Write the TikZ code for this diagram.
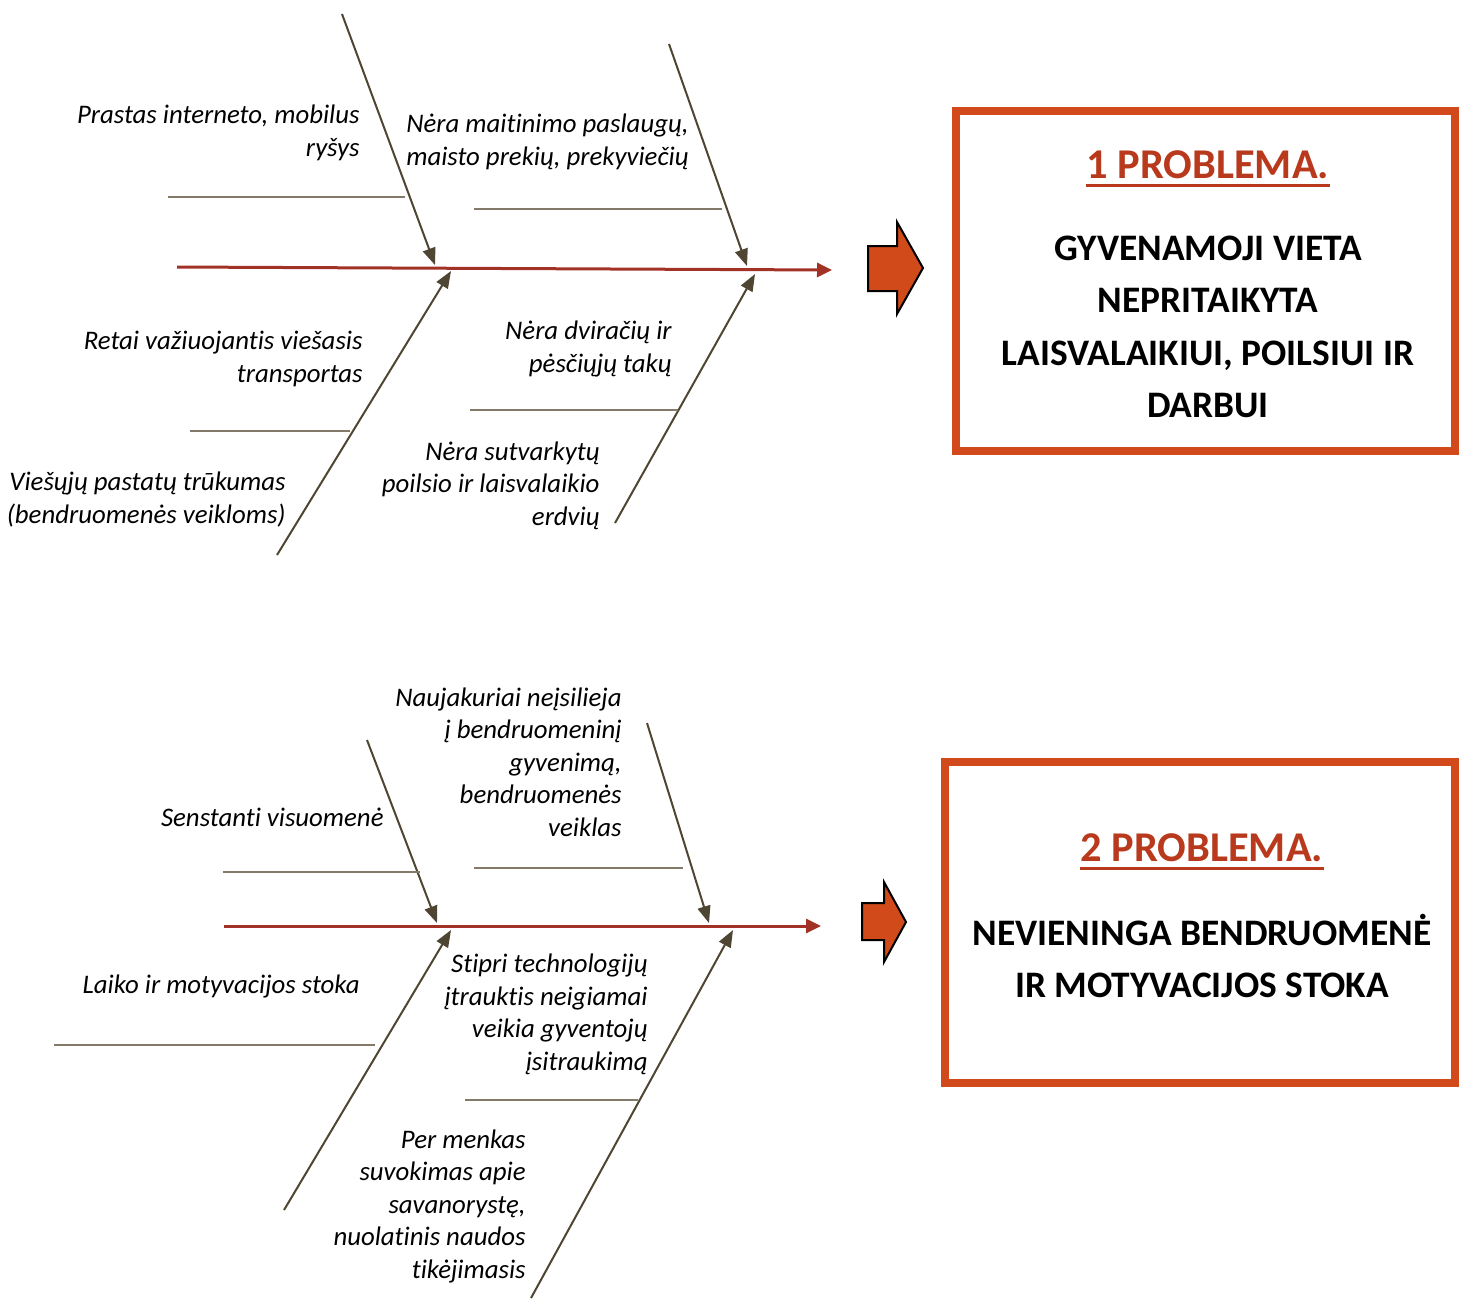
\documentclass[tikz,border=0pt]{standalone}
\usepackage{fontspec}
\setmainfont[Ligatures=NoCommon]{Carlito}
\usetikzlibrary{arrows.meta}
\definecolor{spinec}{HTML}{A33226}
\definecolor{bonec}{HTML}{4F4533}
\definecolor{subc}{HTML}{847A6A}
\definecolor{boxc}{HTML}{D24A1C}
\definecolor{titlec}{HTML}{B8391C}
\definecolor{blkc}{HTML}{D04A1A}
\begin{document}
\begin{tikzpicture}[x=0.5pt,y=-0.5pt,
 spineline/.style={draw=spinec,line width=1.5pt,-{Triangle[length=7.5pt,width=7pt]}},
 boneline/.style={draw=bonec,line width=1pt,-{Triangle[length=8.5pt,width=6.5pt]}},
 subline/.style={draw=subc,line width=0.6pt},
 cause/.style={anchor=base east,align=right,inner sep=0pt,font=\fontsize{13.4}{16.25}\selectfont\itshape},
 probbox/.style={draw=boxc,line width=4pt,rectangle,inner sep=0pt},
 ptitle/.style={inner sep=0pt,text=titlec,font=\fontsize{21.2}{25}\selectfont\bfseries},
 pbody/.style={align=center,inner sep=0pt,font=\fontsize{18.7}{26.25}\selectfont\bfseries},
 blockarrow/.style={fill=blkc,draw=black,line width=1pt,line join=miter}
]
\useasboundingbox (0,0) rectangle (1459,1298);

% ---------------- Diagram 1 ----------------
\coordinate (s1a) at (177,267);
\coordinate (s1b) at (832,270);
\draw[spineline] (s1a) -- (s1b);

\coordinate (b1s) at (342,14);  \coordinate (b1e) at (435,265);
\coordinate (b2s) at (669,44);  \coordinate (b2e) at (747,266);
\coordinate (b3s) at (277,555); \coordinate (b3e) at (451,271);
\coordinate (b4s) at (615,523); \coordinate (b4e) at (755,274);
\draw[boneline] (b1s) -- (b1e);
\draw[boneline] (b2s) -- (b2e);
\draw[boneline] (b3s) -- (b3e);
\draw[boneline] (b4s) -- (b4e);

\coordinate (u1a) at (168,197); \coordinate (u1b) at (405,197);
\coordinate (u2a) at (474,209); \coordinate (u2b) at (722,209);
\coordinate (u3a) at (190,431); \coordinate (u3b) at (350,431);
\coordinate (u4a) at (470,410); \coordinate (u4b) at (678,410);
\draw[subline] (u1a) -- (u1b);
\draw[subline] (u2a) -- (u2b);
\draw[subline] (u3a) -- (u3b);
\draw[subline] (u4a) -- (u4b);

\node[cause] (c1) at (360,156) {Prastas interneto, mobilus\\ryšys};
\node[cause] (c2) at (689,165) {Nėra maitinimo paslaugų,\\maisto prekių, prekyviečių};
\node[cause] (c3) at (363,382) {Retai važiuojantis viešasis\\transportas};
\node[cause] (c4) at (286,523) {Viešųjų pastatų trūkumas\\(bendruomenės veikloms)};
\node[cause] (c5) at (672,372) {Nėra dviračių ir\\pėsčiųjų takų};
\node[cause] (c6) at (600,525) {Nėra sutvarkytų\\poilsio ir laisvalaikio\\erdvių};

\draw[blockarrow] (868,246) -- (897,246) -- (897,222) -- (923,268) -- (897,314) -- (897,291) -- (868,291) -- cycle;

\node[probbox,minimum width=249.5pt,minimum height=170pt] (box1) at (1205.5,281) {};
\node[ptitle] (t1) at (1208,165) {1 PROBLEMA.};
\draw[titlec,line width=1.5pt] ([yshift=-3.5pt]t1.base west) -- ([yshift=-3.5pt]t1.base east);
\node[pbody] (p1) at (1208,327) {GYVENAMOJI VIETA\\NEPRITAIKYTA\\LAISVALAIKIUI, POILSIUI IR\\DARBUI};

% ---------------- Diagram 2 ----------------
\coordinate (s2a) at (224,926);
\coordinate (s2b) at (821,926);
\draw[spineline] (s2a) -- (s2b);

\coordinate (e1s) at (367,740);  \coordinate (e1e) at (437,923);
\coordinate (e2s) at (647,723);  \coordinate (e2e) at (709,923);
\coordinate (e3s) at (284,1210); \coordinate (e3e) at (451,930);
\coordinate (e4s) at (531,1298); \coordinate (e4e) at (733,930);
\draw[boneline] (e1s) -- (e1e);
\draw[boneline] (e2s) -- (e2e);
\draw[boneline] (e3s) -- (e3e);
\draw[boneline] (e4s) -- (e4e);

\coordinate (v1a) at (223,872);  \coordinate (v1b) at (420,872);
\coordinate (v2a) at (474,868);  \coordinate (v2b) at (683,868);
\coordinate (v3a) at (54,1045);  \coordinate (v3b) at (375,1045);
\coordinate (v4a) at (465,1100); \coordinate (v4b) at (638,1100);
\draw[subline] (v1a) -- (v1b);
\draw[subline] (v2a) -- (v2b);
\draw[subline] (v3a) -- (v3b);
\draw[subline] (v4a) -- (v4b);

\node[cause] (d1) at (384,826) {Senstanti visuomenė};
\node[cause] (d2) at (622,836) {Naujakuriai neįsilieja\\į bendruomeninį\\gyvenimą,\\bendruomenės\\veiklas};
\node[cause] (d3) at (360,993) {Laiko ir motyvacijos stoka};
\node[cause] (d4) at (648,1070) {Stipri technologijų\\įtrauktis neigiamai\\veikia gyventojų\\įsitraukimą};
\node[cause] (d5) at (526,1278) {Per menkas\\suvokimas apie\\savanorystę,\\nuolatinis naudos\\tikėjimasis};

\draw[blockarrow] (862,903) -- (884,903) -- (884,882) -- (906,922) -- (884,962) -- (884,940) -- (862,940) -- cycle;

\node[probbox,minimum width=255pt,minimum height=160.5pt] (box2) at (1200,922.5) {};
\node[ptitle] (t2) at (1202,848) {2 PROBLEMA.};
\draw[titlec,line width=1.5pt] ([yshift=-3.5pt]t2.base west) -- ([yshift=-3.5pt]t2.base east);
\node[pbody] (p2) at (1202,956) {NEVIENINGA BENDRUOMENĖ\\IR MOTYVACIJOS STOKA};
\end{tikzpicture}
\end{document}
